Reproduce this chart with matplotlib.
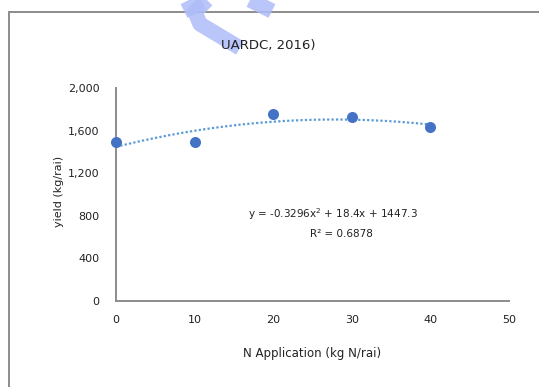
import numpy as np
import matplotlib.pyplot as plt
from matplotlib.patches import Rectangle

# data
n_rate = [0, 10, 20, 30, 40]
yield_kg = [1495, 1495, 1755, 1730, 1635]

# trendline equation printed on the chart
trend_coef = [-0.3296, 18.4, 1447.3]

x_ticks = [0, 10, 20, 30, 40, 50]
y_ticks = [0, 400, 800, 1200, 1600, 2000]

plt.rcParams['font.family'] = ['DejaVu Sans']

W, H = 539, 387
fig = plt.figure(figsize=(W / 100, H / 100), dpi=100)
ax = fig.add_axes([116 / W, 1 - 301 / H, (509 - 116) / W, (301 - 88) / H])

# trendline
xt = np.linspace(0, 40, 100)
ax.plot(xt, np.polyval(trend_coef, xt), linestyle=(0, (1, 1)), color='#5B9BD5', linewidth=1.6, zorder=2)
ax.scatter(n_rate, yield_kg, s=48, color='#4472C4', zorder=3, clip_on=False)

ax.set_xlim(0, 50)
ax.set_ylim(0, 2000)
ax.set_xticks(x_ticks)
ax.set_yticks(y_ticks)
ax.set_yticklabels([f'{v:,}' for v in y_ticks])
ax.tick_params(length=0, labelsize=8, colors='#222222', pad=10)
ax.tick_params(axis='y', pad=12)
for s in ['top', 'right']:
    ax.spines[s].set_visible(False)
for s in ['left', 'bottom']:
    ax.spines[s].set_color('#8c8c8c')
    ax.spines[s].set_linewidth(1.4)

fig.text(333 / W, 1 - 214 / H, 'y = -0.3296x$^2$ + 18.4x + 1447.3',
         ha='center', va='center', fontsize=7.5, color='#222222')
fig.text(341 / W, 1 - 234 / H, 'R² = 0.6878',
         ha='center', va='center', fontsize=7.5, color='#222222')

fig.text(268 / W, 1 - 46 / H, 'UARDC, 2016)', ha='center', va='center', fontsize=9.5, color='#222222')
fig.text(312 / W, 1 - 353 / H, 'N Application (kg N/rai)', ha='center', va='center', fontsize=8.5, color='#222222')
fig.text(59 / W, 1 - 191 / H, 'yield (kg/rai)', ha='center', va='center', rotation=90, fontsize=8, color='#222222')

# outer chart border
fig.patches.append(Rectangle((9 / W, -0.1), 1.2, 1 - 12 / H + 0.1, transform=fig.transFigure,
                             fill=False, edgecolor='#8c8c8c', linewidth=1.4))

# faint watermark stroke at the top
wm = dict(transform=fig.transFigure, color='#aebcf8', linewidth=11, alpha=0.85, solid_capstyle='butt')
fig.lines.append(plt.Line2D([207 / W, 195 / W, 200 / W, 240 / W],
                            [1 - 0 / H, 1 - 12 / H, 1 - 24 / H, 1 - 48 / H], **wm))
fig.lines.append(plt.Line2D([184 / W, 202 / W], [1 - 11 / H, 1 - 2 / H], **wm))
fig.lines.append(plt.Line2D([250 / W, 272 / W], [1 - 0 / H, 1 - 11 / H], **wm))

fig.savefig('out.png', dpi=100)
